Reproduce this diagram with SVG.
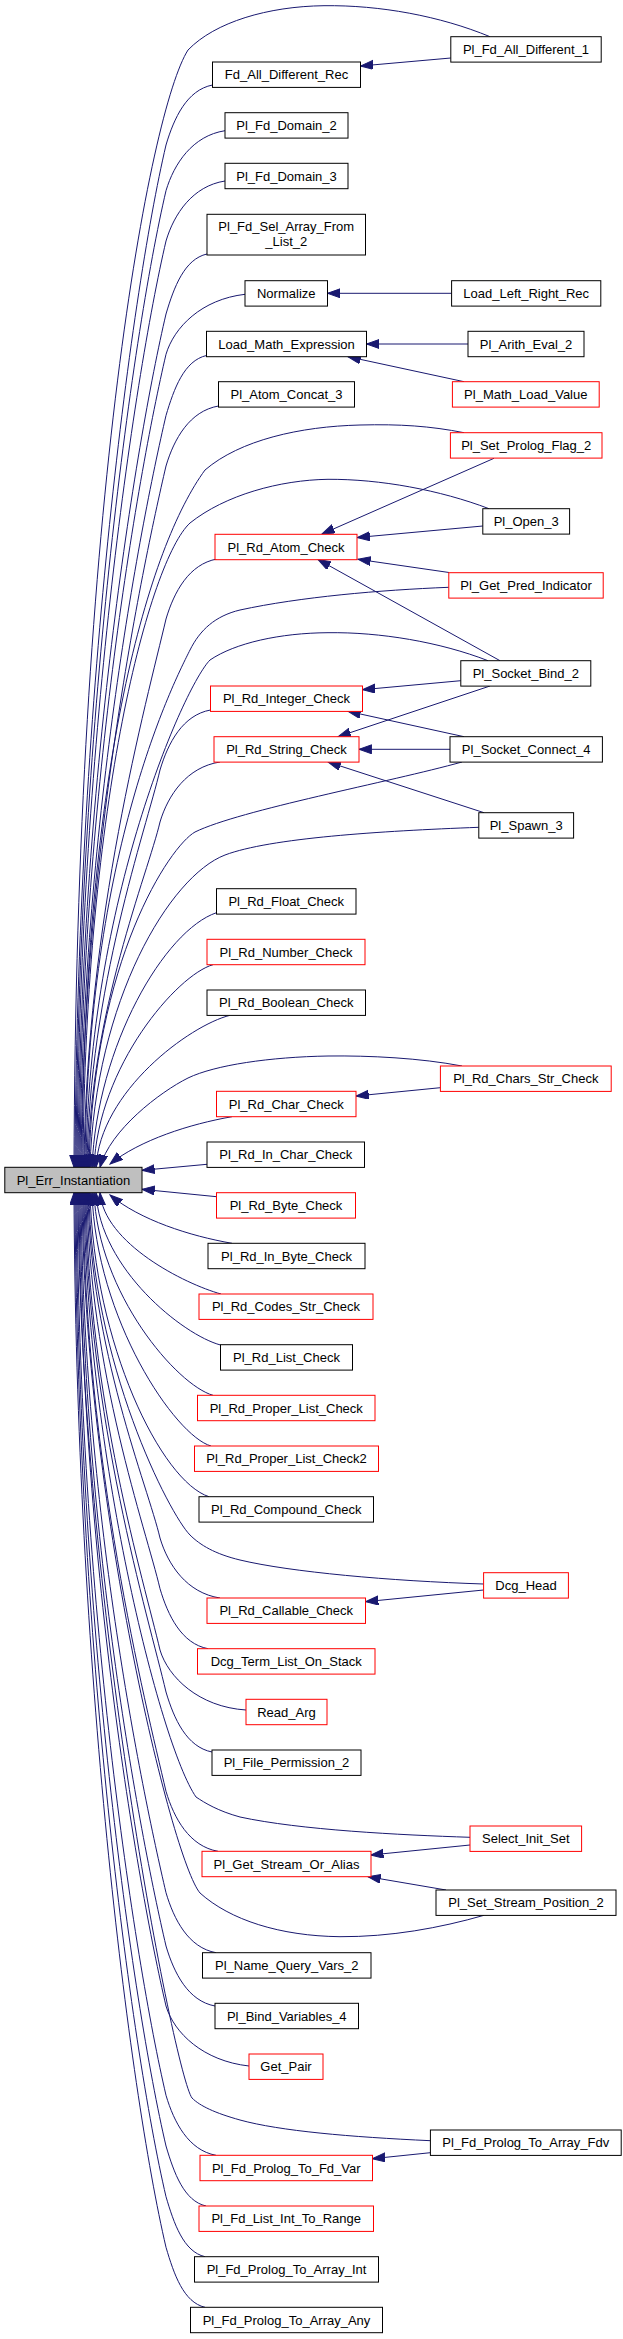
<svg xmlns="http://www.w3.org/2000/svg" width="623" height="2339" viewBox="0 0 623 2339">
<style>
.b{fill:#fff;stroke:#000;stroke-width:1}
.r{fill:#fff;stroke:#ff0000;stroke-width:1}
.m{fill:#bfbfbf;stroke:#000;stroke-width:1}
text{font-family:"Liberation Sans",Arial,sans-serif;font-size:13px;fill:#000;text-anchor:middle}
.e path{fill:none;stroke:#191970;stroke-width:1;marker-end:url(#ah)}
</style>
<defs>
<marker id="ah" markerUnits="userSpaceOnUse" markerWidth="14" markerHeight="10" refX="12.7" refY="4.5" orient="auto"><path d="M0,0 L12.7,4.5 L0,9 Z" fill="#191970" stroke="#191970" stroke-width="1"/></marker>
</defs>
<rect width="623" height="2339" fill="#fff"/>
<g id="edges" class="e">
<path d="M490,36.7 C440,16 380,5 324,5.7 C268,6.4 215,22 188,50 C150,110 76,500 74,1167.3"/>
<path d="M212.5,85 C186.9,90 174,118 166,145 C130.2,298.3 77,707.3 75,1167.3"/>
<path d="M225,130.7 C192.6,135.7 174,163.7 166,190.7 C131.8,337.2 78,727.8 76,1167.3"/>
<path d="M225,181 C192.6,186 174,214 166,241 C133.6,379.9 79,750.5 77,1167.3"/>
<path d="M207,254 C184.5,259 174,287 166,314 C136.1,442 80,783.3 78,1167.3"/>
<path d="M245,294.3 C201.5,299.3 174,327.3 166,354.3 C137.5,476.3 81,801.5 79,1167.3"/>
<path d="M206.5,355.5 C184.2,360.5 174,388.5 166,415.5 C139.7,528.3 82,829 80,1167.3"/>
<path d="M218.5,406 C189.6,411 174,439 166,466 C141.5,571.2 83,851.7 81,1167.3"/>
<path d="M464,432.7 C430,426 400,424 360,425 C300,426.5 240,440 205,470 C150,545 84,760 82,1167.3"/>
<path d="M489,508.7 C440,490 380,479 328,479.3 C280,480 225,495 190,523 C150,560 85,800 83,1167.3"/>
<path d="M217,559 C189,564 174,592 166,619 C146.8,701.2 86,920.6 84,1167.3"/>
<path d="M448.8,587.3 C380,590 300,597 240,610 C215,616 200,630 190,650 C175,680 87,850 85,1167.3"/>
<path d="M488,660.7 C440,642 380,632 328,632.7 C280,633 235,643 210,660 C185,685 88,900 86,1167.3"/>
<path d="M210.5,710 C182.7,715 168,743 160,770 C146.1,829.6 89,988.5 87,1167.3"/>
<path d="M220,762 C187,767 168,795 160,822 C147.9,873.8 90,1011.9 88,1167.3"/>
<path d="M462,762 C390,782 240,810 195,832 C170,846 93,960 89,1167.3"/>
<path d="M478.8,827.3 C380,831 270,838 225,855 C170,876 95,1000 90,1167.3"/>
<path d="M216.5,912.7 C165,930 97,1045 92,1167.3"/>
<path d="M213,964.7 C177.3,974.7 98,1066 94,1167.3"/>
<path d="M230,1015.3 C189.8,1025.3 100,1091.3 96,1167.3"/>
<path d="M462,1066 C420,1058 370,1055.5 328,1056 C270,1057 215,1065 188,1078 C160,1092 110,1130 100,1167.3"/>
<path d="M232,1116.7 C190,1124 140,1140 110,1164"/>
<path d="M207,1164.3 L142,1170.3"/>
<path d="M216.5,1196.7 L142,1189.3"/>
<path d="M232,1243.3 C190,1236 140,1220 110,1195"/>
<path d="M221,1294 C184.7,1284 104,1243.4 100,1192.7"/>
<path d="M220.5,1345 C183.1,1335 100,1268.9 96,1192.7"/>
<path d="M213,1395.3 C177.3,1385.3 98,1294 94,1192.7"/>
<path d="M211,1446 C175.3,1436 96,1319.4 92,1192.7"/>
<path d="M209,1496.7 C161.4,1481.5 94,1344.7 90,1192.7"/>
<path d="M483.6,1584 C390,1581 290,1572 240,1560 C215,1554 200,1545 190,1535 C170,1515 91,1363.7 89,1192.7"/>
<path d="M220,1598 C187,1593 168,1565 160,1538 C147.9,1486.2 90,1348.1 88,1192.7"/>
<path d="M208,1648.7 C181.6,1643.7 168,1615.7 160,1588.7 C146.1,1529.3 89,1370.9 87,1192.7"/>
<path d="M246,1710 C198.7,1707 168,1677 160,1650 C144,1581.4 88,1398.5 86,1192.7"/>
<path d="M212,1752 C186.7,1747 174,1719 166,1692 C148.5,1617.1 87,1417.4 85,1192.7"/>
<path d="M470,1837.3 C400,1835 300,1830 240,1817 C218,1811 205,1803 196,1797 C160,1745 86,1450 84,1192.7"/>
<path d="M218,1851.3 C189.4,1846.3 174,1818.3 166,1791.3 C145,1701.5 85,1462.1 83,1192.7"/>
<path d="M484,1915.3 C440,1928 390,1937 340,1936.7 C280,1936 230,1920 200,1893 C172,1860 84,1500 82,1192.7"/>
<path d="M216,1952.7 C188.5,1947.7 174,1919.7 166,1892.7 C141.5,1787.7 83,1507.7 81,1192.7"/>
<path d="M215,2006 C188,2001 174,1973 166,1946 C139.6,1833 82,1531.7 80,1192.7"/>
<path d="M249,2066 C203.4,2061 174,2033 166,2006 C137.5,1884 81,1558.7 79,1192.7"/>
<path d="M430.4,2140.7 C350,2137 280,2131 240,2120 C215,2113 200,2106 192,2098 C175,2075 80,1600 78,1192.7"/>
<path d="M216,2155.3 C188.5,2150.3 174,2122.3 166,2095.3 C134.4,1959.9 79,1598.9 77,1192.7"/>
<path d="M206,2206 C184,2201 174,2173 166,2146 C132.6,2003 78,1621.7 76,1192.7"/>
<path d="M205,2256.7 C183.5,2251.7 174,2223.7 166,2196.7 C130.9,2046.1 77,1644.5 75,1192.7"/>
<path d="M205,2307.3 C183.5,2302.3 174,2274.3 166,2247.3 C129.1,2089.1 76,1667.3 74,1192.7"/>
<path d="M450.8,58 L360.5,66"/>
<path d="M451.6,293.3 L327.5,293.3"/>
<path d="M468,344 L366.5,344"/>
<path d="M464,381.7 L348,356.7"/>
<path d="M494,458.3 L322,534"/>
<path d="M482.8,526 L357.2,537.5"/>
<path d="M449,572.5 L358,559.3"/>
<path d="M500,660.7 L318,559.5"/>
<path d="M460.8,680.7 L362.5,689.7"/>
<path d="M490,686 L338,736.7"/>
<path d="M464,736.7 L348,711.3"/>
<path d="M450,749.3 L359,749.3"/>
<path d="M484,812.7 L328,762"/>
<path d="M440.4,1087.7 L356,1096"/>
<path d="M483.6,1590 L365.6,1601.7"/>
<path d="M470,1845 L370.8,1855"/>
<path d="M446,1890 L368,1876.7"/>
<path d="M430.4,2152.7 L372.4,2158.7"/>
</g>
<g id="Pl_Err_Instantiation"><rect class="m" x="4.8" y="1167.3" width="137.2" height="25.4"/><text x="73.4" y="1184.6">Pl_Err_Instantiation</text></g>
<g id="Fd_All_Different_Rec"><rect class="b" x="212.5" y="62" width="148" height="25.4"/><text x="286.5" y="79.3">Fd_All_Different_Rec</text></g>
<g id="Pl_Fd_Domain_2"><rect class="b" x="225" y="112.7" width="123" height="25.4"/><text x="286.5" y="130">Pl_Fd_Domain_2</text></g>
<g id="Pl_Fd_Domain_3"><rect class="b" x="225" y="163.3" width="123" height="25.4"/><text x="286.5" y="180.6">Pl_Fd_Domain_3</text></g>
<g id="Pl_Fd_Sel_Array_From_List_2"><rect class="b" x="207" y="214.3" width="158.5" height="40.7"/><text x="286.25" y="231.2">Pl_Fd_Sel_Array_From</text><text x="286.25" y="245.8">_List_2</text></g>
<g id="Normalize"><rect class="b" x="245" y="280.7" width="82.5" height="25.4"/><text x="286.25" y="298">Normalize</text></g>
<g id="Load_Math_Expression"><rect class="b" x="206.5" y="331.3" width="160" height="25.4"/><text x="286.5" y="348.6">Load_Math_Expression</text></g>
<g id="Pl_Atom_Concat_3"><rect class="b" x="218.5" y="381.7" width="136" height="25.4"/><text x="286.5" y="399">Pl_Atom_Concat_3</text></g>
<g id="Pl_Rd_Atom_Check"><rect class="r" x="215" y="534.3" width="142" height="25.4"/><text x="286" y="551.6">Pl_Rd_Atom_Check</text></g>
<g id="Pl_Rd_Integer_Check"><rect class="r" x="210.5" y="686" width="152" height="25.4"/><text x="286.5" y="703.3">Pl_Rd_Integer_Check</text></g>
<g id="Pl_Rd_String_Check"><rect class="r" x="214" y="736.7" width="145" height="25.4"/><text x="286.5" y="754">Pl_Rd_String_Check</text></g>
<g id="Pl_Rd_Float_Check"><rect class="b" x="216.5" y="888.7" width="139.5" height="25.4"/><text x="286.25" y="906">Pl_Rd_Float_Check</text></g>
<g id="Pl_Rd_Number_Check"><rect class="r" x="207" y="939.3" width="158" height="25.4"/><text x="286" y="956.6">Pl_Rd_Number_Check</text></g>
<g id="Pl_Rd_Boolean_Check"><rect class="b" x="207" y="990" width="158.5" height="25.4"/><text x="286.25" y="1007.3">Pl_Rd_Boolean_Check</text></g>
<g id="Pl_Rd_Char_Check"><rect class="r" x="216.5" y="1091.3" width="139.5" height="25.4"/><text x="286.25" y="1108.6">Pl_Rd_Char_Check</text></g>
<g id="Pl_Rd_In_Char_Check"><rect class="b" x="207" y="1142" width="157.5" height="25.4"/><text x="285.75" y="1159.3">Pl_Rd_In_Char_Check</text></g>
<g id="Pl_Rd_Byte_Check"><rect class="r" x="216.5" y="1192.7" width="139" height="25.4"/><text x="286" y="1210">Pl_Rd_Byte_Check</text></g>
<g id="Pl_Rd_In_Byte_Check"><rect class="b" x="208" y="1243.3" width="157" height="25.4"/><text x="286.5" y="1260.6">Pl_Rd_In_Byte_Check</text></g>
<g id="Pl_Rd_Codes_Str_Check"><rect class="r" x="199" y="1294" width="174" height="25.4"/><text x="286" y="1311.3">Pl_Rd_Codes_Str_Check</text></g>
<g id="Pl_Rd_List_Check"><rect class="b" x="220.5" y="1344.7" width="132" height="25.4"/><text x="286.5" y="1362">Pl_Rd_List_Check</text></g>
<g id="Pl_Rd_Proper_List_Check"><rect class="r" x="197.5" y="1395.3" width="177.5" height="25.4"/><text x="286.25" y="1412.6">Pl_Rd_Proper_List_Check</text></g>
<g id="Pl_Rd_Proper_List_Check2"><rect class="r" x="194.5" y="1446" width="184" height="25.4"/><text x="286.5" y="1463.3">Pl_Rd_Proper_List_Check2</text></g>
<g id="Pl_Rd_Compound_Check"><rect class="b" x="199" y="1496.7" width="174.5" height="25.4"/><text x="286.25" y="1514">Pl_Rd_Compound_Check</text></g>
<g id="Pl_Rd_Callable_Check"><rect class="r" x="207" y="1598" width="158.5" height="25.4"/><text x="286.25" y="1615.3">Pl_Rd_Callable_Check</text></g>
<g id="Dcg_Term_List_On_Stack"><rect class="r" x="197.5" y="1648.7" width="177.5" height="25.4"/><text x="286.25" y="1666">Dcg_Term_List_On_Stack</text></g>
<g id="Read_Arg"><rect class="r" x="246" y="1699.3" width="81" height="25.4"/><text x="286.5" y="1716.6">Read_Arg</text></g>
<g id="Pl_File_Permission_2"><rect class="b" x="212" y="1750" width="149" height="25.4"/><text x="286.5" y="1767.3">Pl_File_Permission_2</text></g>
<g id="Pl_Get_Stream_Or_Alias"><rect class="r" x="202" y="1851.3" width="169" height="25.4"/><text x="286.5" y="1868.6">Pl_Get_Stream_Or_Alias</text></g>
<g id="Pl_Name_Query_Vars_2"><rect class="b" x="202.5" y="1952.7" width="168.5" height="25.4"/><text x="286.75" y="1970">Pl_Name_Query_Vars_2</text></g>
<g id="Pl_Bind_Variables_4"><rect class="b" x="215" y="2003.3" width="143.5" height="25.4"/><text x="286.75" y="2020.6">Pl_Bind_Variables_4</text></g>
<g id="Get_Pair"><rect class="r" x="249" y="2054" width="74" height="25.4"/><text x="286" y="2071.3">Get_Pair</text></g>
<g id="Pl_Fd_Prolog_To_Fd_Var"><rect class="r" x="200" y="2155.3" width="172.5" height="25.4"/><text x="286.25" y="2172.6">Pl_Fd_Prolog_To_Fd_Var</text></g>
<g id="Pl_Fd_List_Int_To_Range"><rect class="r" x="199" y="2206" width="174.5" height="25.4"/><text x="286.25" y="2223.3">Pl_Fd_List_Int_To_Range</text></g>
<g id="Pl_Fd_Prolog_To_Array_Int"><rect class="b" x="194.5" y="2256.7" width="184" height="25.4"/><text x="286.5" y="2274">Pl_Fd_Prolog_To_Array_Int</text></g>
<g id="Pl_Fd_Prolog_To_Array_Any"><rect class="b" x="190.5" y="2307.3" width="192" height="25.4"/><text x="286.5" y="2324.6">Pl_Fd_Prolog_To_Array_Any</text></g>
<g id="Pl_Fd_All_Different_1"><rect class="b" x="450.8" y="36.7" width="150.4" height="25.4"/><text x="526" y="54">Pl_Fd_All_Different_1</text></g>
<g id="Load_Left_Right_Rec"><rect class="b" x="451.6" y="280.7" width="149.2" height="25.4"/><text x="526.2" y="298">Load_Left_Right_Rec</text></g>
<g id="Pl_Arith_Eval_2"><rect class="b" x="468" y="331.3" width="116" height="25.4"/><text x="526" y="348.6">Pl_Arith_Eval_2</text></g>
<g id="Pl_Math_Load_Value"><rect class="r" x="452.4" y="381.7" width="146.8" height="25.4"/><text x="525.8" y="399">Pl_Math_Load_Value</text></g>
<g id="Pl_Set_Prolog_Flag_2"><rect class="r" x="450.4" y="432.7" width="151.6" height="25.4"/><text x="526.2" y="450">Pl_Set_Prolog_Flag_2</text></g>
<g id="Pl_Open_3"><rect class="b" x="482.8" y="508.7" width="86.8" height="25.4"/><text x="526.2" y="526">Pl_Open_3</text></g>
<g id="Pl_Get_Pred_Indicator"><rect class="r" x="448.8" y="572.7" width="154.4" height="25.4"/><text x="526" y="590">Pl_Get_Pred_Indicator</text></g>
<g id="Pl_Socket_Bind_2"><rect class="b" x="460.8" y="660.7" width="130" height="25.4"/><text x="525.8" y="678">Pl_Socket_Bind_2</text></g>
<g id="Pl_Socket_Connect_4"><rect class="b" x="450" y="736.7" width="152.4" height="25.4"/><text x="526.2" y="754">Pl_Socket_Connect_4</text></g>
<g id="Pl_Spawn_3"><rect class="b" x="478.8" y="812.7" width="94.8" height="25.4"/><text x="526.2" y="830">Pl_Spawn_3</text></g>
<g id="Pl_Rd_Chars_Str_Check"><rect class="r" x="440.4" y="1066" width="170.8" height="25.4"/><text x="525.8" y="1083.3">Pl_Rd_Chars_Str_Check</text></g>
<g id="Dcg_Head"><rect class="r" x="483.6" y="1572.7" width="84.8" height="25.4"/><text x="526" y="1590">Dcg_Head</text></g>
<g id="Select_Init_Set"><rect class="r" x="470" y="1826" width="111.6" height="25.4"/><text x="525.8" y="1843.3">Select_Init_Set</text></g>
<g id="Pl_Set_Stream_Position_2"><rect class="b" x="436" y="1890" width="180" height="25.4"/><text x="526" y="1907.3">Pl_Set_Stream_Position_2</text></g>
<g id="Pl_Fd_Prolog_To_Array_Fdv"><rect class="b" x="430.4" y="2130" width="190.8" height="25.4"/><text x="525.8" y="2147.3">Pl_Fd_Prolog_To_Array_Fdv</text></g>
</svg>
